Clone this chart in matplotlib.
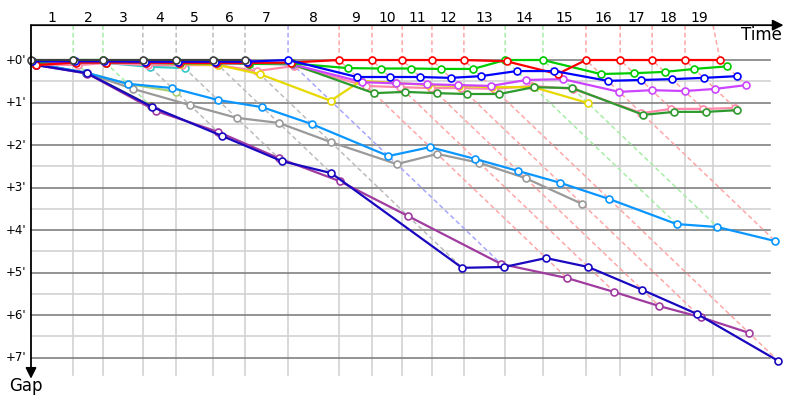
import numpy as np
import matplotlib.pyplot as plt
from matplotlib.colors import to_rgb

# leader crossing time per lap (minutes), lap 0 = start
lap_times = [0.0, 0.95, 1.62, 2.52, 3.27, 4.10, 4.82, 5.79, 6.94, 7.68,
             8.36, 9.03, 9.75, 10.68, 11.53, 12.50, 13.27, 13.99, 14.73, 15.52]
# lap marks on the time axis
grid_times = [0.95, 1.62, 2.52, 3.27, 4.10, 4.82, 5.79, 6.94, 7.68, 8.36,
              9.03, 9.75, 10.68, 11.53, 12.50, 13.27, 13.99, 14.73, 15.36]
lap_labels = [str(i) for i in range(1, 20)]
gap_ticks = [0, 1, 2, 3, 4, 5, 6, 7]

# gap to the leader at every lap (minutes), starting at lap 0
olive = [0.10, 0.30, 1.08]
yellowgreen = [0.09, 0.30, 0.56, 0.75]
cyan = [0.05, 0.07, 0.07, 0.16, 0.19]
gray = [0.10, 0.31, 0.68, 1.06, 1.36, 1.48, 1.93, 2.45, 2.21, 2.42, 2.78, 3.39]
lightblue = [0.08, 0.30, 0.56, 0.66, 0.94, 1.11, 1.51, 2.26, 2.05, 2.33, 2.61,
             2.89, 3.27, 3.86, 3.93, 4.26]
purple = [0.12, 0.32, 1.20, 1.69, 2.31, 2.85, 3.67, 4.80, 5.13, 5.46, 5.79,
          6.05, 6.42]
navy = [0.12, 0.31, 1.10, 1.79, 2.38, 2.66, 4.89, 4.87, 4.66, 4.87, 5.41,
        5.98, 7.08]
pink = [0.10, 0.12, 0.07, 0.12, 0.12, 0.12, 0.26, 0.14, 0.61, 0.64, 0.66,
        0.66, 0.68, 0.61, 0.68, 1.25, 1.15, 1.15, 1.13]
yellow = [0.02, 0.04, 0.05, 0.05, 0.09, 0.12, 0.33, 0.96, 0.49, 0.54, 0.59,
          0.61, 0.64, 0.64, 1.01]
darkgreen = [0.07, 0.05, 0.06, 0.07, 0.08, 0.08, 0.09, 0.10, 0.78, 0.75, 0.78,
             0.80, 0.80, 0.64, 0.66, 1.29, 1.22, 1.22, 1.18]
violet = [0.04, 0.05, 0.05, 0.06, 0.06, 0.07, 0.08, 0.10, 0.52, 0.55, 0.57,
          0.59, 0.61, 0.47, 0.45, 0.75, 0.71, 0.73, 0.68, 0.59]
green = [0.05, 0.0, 0.0, 0.02, 0.02, 0.03, 0.09, 0.08, 0.19, 0.20, 0.20,
         0.21, 0.21, 0.0, 0.0, 0.33, 0.31, 0.28, 0.21, 0.15]
red = [0.12, 0.06, 0.06, 0.06, 0.07, 0.07, 0.07, 0.06, 0.0, 0.0, 0.0,
       0.0, 0.0, 0.03, 0.33, 0.0, 0.0, 0.0, 0.0, 0.0]
blue = [0.03, 0.03, 0.03, 0.04, 0.04, 0.04, 0.04, 0.0, 0.40, 0.40, 0.40,
        0.42, 0.38, 0.26, 0.26, 0.49, 0.47, 0.45, 0.42, 0.38]
black = [0.0, 0.0, 0.0, 0.0, 0.0, 0.0, 0.0]

cars = [(olive, '#7a7a40'), (yellowgreen, '#a8d070'), (cyan, '#30c8c8'),
        (gray, '#9a9a9a'), (lightblue, '#0a96ff'), (purple, '#a03ca0'),
        (navy, '#1a08c0'), (pink, '#ff88aa'), (yellow, '#e6d800'),
        (darkgreen, '#2e9a2e'), (violet, '#cc44ff'), (green, '#00cc00'),
        (red, '#ff0000'), (blue, '#0000ff'), (black, '#404040')]

top = -0.82

fig = plt.figure(figsize=(8, 4), dpi=100)
ax = fig.add_axes([0, 0, 1, 1])
ax.set_xlim(-0.698, 17.32)
ax.set_ylim(8.0, -1.412)
ax.axis('off')

# grid
for g in np.arange(0.5, 7.0, 1.0):
    ax.plot([0, 16.64], [g, g], color='#d2d2d2', lw=1.2, zorder=0)
for g in gap_ticks:
    ax.plot([0, 16.64], [g, g], color='#808080', lw=1.2, zorder=1)
    ax.text(-0.11, g, "+%d'" % g, ha='right', va='center', fontsize=8.5)
for t in grid_times:
    ax.plot([t, t], [0, 7.41], color='#d2d2d2', lw=1.2, zorder=0)

edges = [0.0] + grid_times
for i, lab in enumerate(lap_labels):
    ax.text((edges[i] + edges[i + 1]) / 2, -0.98, lab, ha='center',
            va='center', fontsize=10)

# lap lines: same lap of every car joined, coloured after the leader
for n in range(1, len(lap_times)):
    pts = [(gaps[n], col) for gaps, col in cars if len(gaps) > n]
    lead_col = min(pts, key=lambda p: p[0])[1]
    gs = sorted(p[0] for p in pts)
    xs = [grid_times[n - 1]] + [lap_times[n] + g for g in gs]
    ys = [top] + gs
    light = tuple(1 - 0.35 * (1 - c) for c in to_rgb(lead_col))
    ax.plot(xs, ys, color=light, lw=1.1, ls=(0, (3, 2)), zorder=2)

# cars
for gaps, col in cars:
    xs = [lap_times[i] + g for i, g in enumerate(gaps)]
    ax.plot(xs, gaps, color=col, lw=1.6, marker='o', ms=5, mfc='white',
            mec=col, mew=1.2, zorder=3)

# axes with arrows
ax.annotate('', xy=(16.95, top), xytext=(0, top),
            arrowprops=dict(arrowstyle='-|>', color='black', lw=1.3,
                            mutation_scale=16, shrinkA=0, shrinkB=0))
ax.annotate('', xy=(0, 7.5), xytext=(0, top),
            arrowprops=dict(arrowstyle='-|>', color='black', lw=1.3,
                            mutation_scale=16, shrinkA=0, shrinkB=0))
ax.text(16.45, -0.58, 'Time', ha='center', va='center', fontsize=12)
ax.text(-0.12, 7.67, 'Gap', ha='center', va='center', fontsize=12)

fig.savefig('out.png', dpi=100)
